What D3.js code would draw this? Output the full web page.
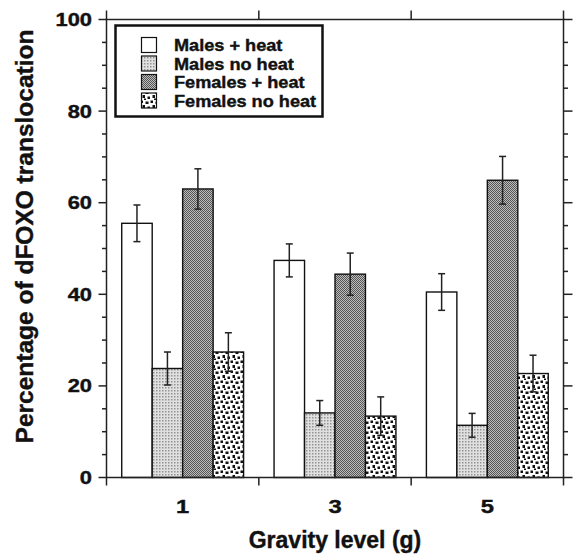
<!DOCTYPE html>
<html><head><meta charset="utf-8">
<script src="https://cdn.jsdelivr.net/npm/d3@7"></script>
<style>
body{margin:0;background:#fff;}
text{font-family:"Liberation Sans",Arial,sans-serif;font-weight:bold;fill:#111;stroke:#111;stroke-width:0.4px;}
</style></head>
<body><svg id="c" width="573" height="554"></svg>
<script>
const gravity = ["1","3","5"];
const seriesNames = ["Males + heat","Males no heat","Females + heat","Females no heat"];
const malesHeat = [55.5, 47.4, 40.5];
const malesHeatErr = [4.0, 3.6, 4.0];
const malesNoHeat = [23.8, 14.1, 11.4];
const malesNoHeatErr = [3.6, 2.7, 2.6];
const femalesHeat = [63.0, 44.4, 64.9];
const femalesHeatErr = [4.4, 4.6, 5.2];
const femalesNoHeat = [27.4, 13.4, 22.7];
const femalesNoHeatErr = [4.2, 4.2, 4.0];
const yTicks = [0,20,40,60,80,100];

const values = [malesHeat, malesNoHeat, femalesHeat, femalesNoHeat];
const errs = [malesHeatErr, malesNoHeatErr, femalesHeatErr, femalesNoHeatErr];
const fills = ["#fff","url(#pMNH)","url(#pFH)","url(#pFNH)"];

const L=106.5, R=563.5, T=19.5, B=477.5;
const svg = d3.select("#c");
const defs = svg.append("defs");
let p = defs.append("pattern").attr("id","pMNH").attr("patternUnits","userSpaceOnUse").attr("width",3).attr("height",3);
p.append("rect").attr("width",3).attr("height",3).attr("fill","#e0e0e0");
p.append("rect").attr("width",1.5).attr("height",1.5).attr("fill","#949494");
p = defs.append("pattern").attr("id","pFH").attr("patternUnits","userSpaceOnUse").attr("width",2).attr("height",2);
p.append("rect").attr("width",2).attr("height",2).attr("fill","#bdbdbd");
p.append("rect").attr("width",1).attr("height",1).attr("fill","#555");
p.append("rect").attr("x",1).attr("y",1).attr("width",1).attr("height",1).attr("fill","#555");
p = defs.append("pattern").attr("id","pFNH").attr("patternUnits","userSpaceOnUse").attr("width",10).attr("height",10);
p.append("rect").attr("width",10).attr("height",10).attr("fill","#fff");
[[0.5,0.5,2.5,2.5],[5.5,1.5,3,2.5],[2.5,5,2.5,3],[7.5,6.5,2.5,2.5],[4,8.5,2,1.5]].forEach(d=>{
  p.append("rect").attr("x",d[0]).attr("y",d[1]).attr("width",d[2]).attr("height",d[3]).attr("fill","#111");
});

const x0 = d3.scaleBand().domain(gravity).range([L,R]).paddingInner(0).paddingOuter(0);
const x1 = d3.scaleBand().domain(d3.range(4)).range([0,x0.bandwidth()]).paddingInner(0).paddingOuter(0.5);
const y = d3.scaleLinear().domain([0,100]).range([B,T]);

gravity.forEach((g,gi)=>{
  values.forEach((arr,si)=>{
    const bx = x0(g)+x1(si);
    svg.append("rect").attr("x",bx).attr("y",y(arr[gi])).attr("width",x1.bandwidth()).attr("height",y(0)-y(arr[gi]))
      .attr("fill",fills[si]).attr("stroke","#111").attr("stroke-width",1.4);
  });
});
gravity.forEach((g,gi)=>{
  values.forEach((arr,si)=>{
    const cx = x0(g)+x1(si)+x1.bandwidth()/2;
    const hi = y(arr[gi]+errs[si][gi]), lo = y(arr[gi]-errs[si][gi]);
    const e = svg.append("g").attr("stroke","#222").attr("stroke-width",1.5);
    e.append("line").attr("x1",cx).attr("x2",cx).attr("y1",hi).attr("y2",lo);
    e.append("line").attr("x1",cx-3.5).attr("x2",cx+3.5).attr("y1",hi).attr("y2",hi);
    e.append("line").attr("x1",cx-3.5).attr("x2",cx+3.5).attr("y1",lo).attr("y2",lo);
  });
});

const fr = svg.append("g").attr("stroke","#222").attr("stroke-width",1.5).attr("fill","none");
fr.append("rect").attr("x",L).attr("y",T).attr("width",R-L).attr("height",B-T);
const minor = d3.range(0,101,5).filter(v=>v%20!==0);
yTicks.forEach(v=>{
  fr.append("line").attr("x1",L-8).attr("x2",L).attr("y1",y(v)).attr("y2",y(v));
  fr.append("line").attr("x1",R).attr("x2",R+9).attr("y1",y(v)).attr("y2",y(v));
});
minor.forEach(v=>{
  fr.append("line").attr("x1",L-4.5).attr("x2",L).attr("y1",y(v)).attr("y2",y(v));
  fr.append("line").attr("x1",R).attr("x2",R+4.5).attr("y1",y(v)).attr("y2",y(v));
});
const bounds = gravity.map(g=>x0(g)).concat([R]);
bounds.forEach(bx=>{
  fr.append("line").attr("x1",bx).attr("x2",bx).attr("y1",B).attr("y2",B+8);
  fr.append("line").attr("x1",bx).attr("x2",bx).attr("y1",T-9).attr("y2",T);
});

yTicks.forEach(v=>{
  svg.append("text").attr("transform",`translate(92,${y(v)+6.5}) scale(1.25,1)`)
    .attr("text-anchor","end").attr("font-size",17.5).text(v);
});
gravity.forEach(g=>{
  svg.append("text").attr("transform",`translate(${x0(g)+x0.bandwidth()/2},513) scale(1.25,1)`)
    .attr("text-anchor","middle").attr("font-size",19).text(g);
});
svg.append("text").attr("x",335).attr("y",548).attr("text-anchor","middle").attr("font-size",23).text("Gravity level (g)");
svg.append("text").attr("transform","translate(33,236.5) rotate(-90)").attr("text-anchor","middle").attr("font-size",24.5).text("Percentage of dFOXO translocation");

const lg = svg.append("g");
lg.append("rect").attr("x",115.5).attr("y",25.5).attr("width",207).attr("height",91).attr("fill","#fff").attr("stroke","#111").attr("stroke-width",2.5);
const rowY = [45,63.5,82,100.5];
seriesNames.forEach((n,i)=>{
  lg.append("rect").attr("x",141.5).attr("y",rowY[i]-7.5).attr("width",15).attr("height",15).attr("fill",fills[i]).attr("stroke","#111").attr("stroke-width",1.2);
  lg.append("text").attr("transform",`translate(174,${rowY[i]+6}) scale(1.1,1)`).attr("font-size",16.5).text(n);
});
</script></body></html>
